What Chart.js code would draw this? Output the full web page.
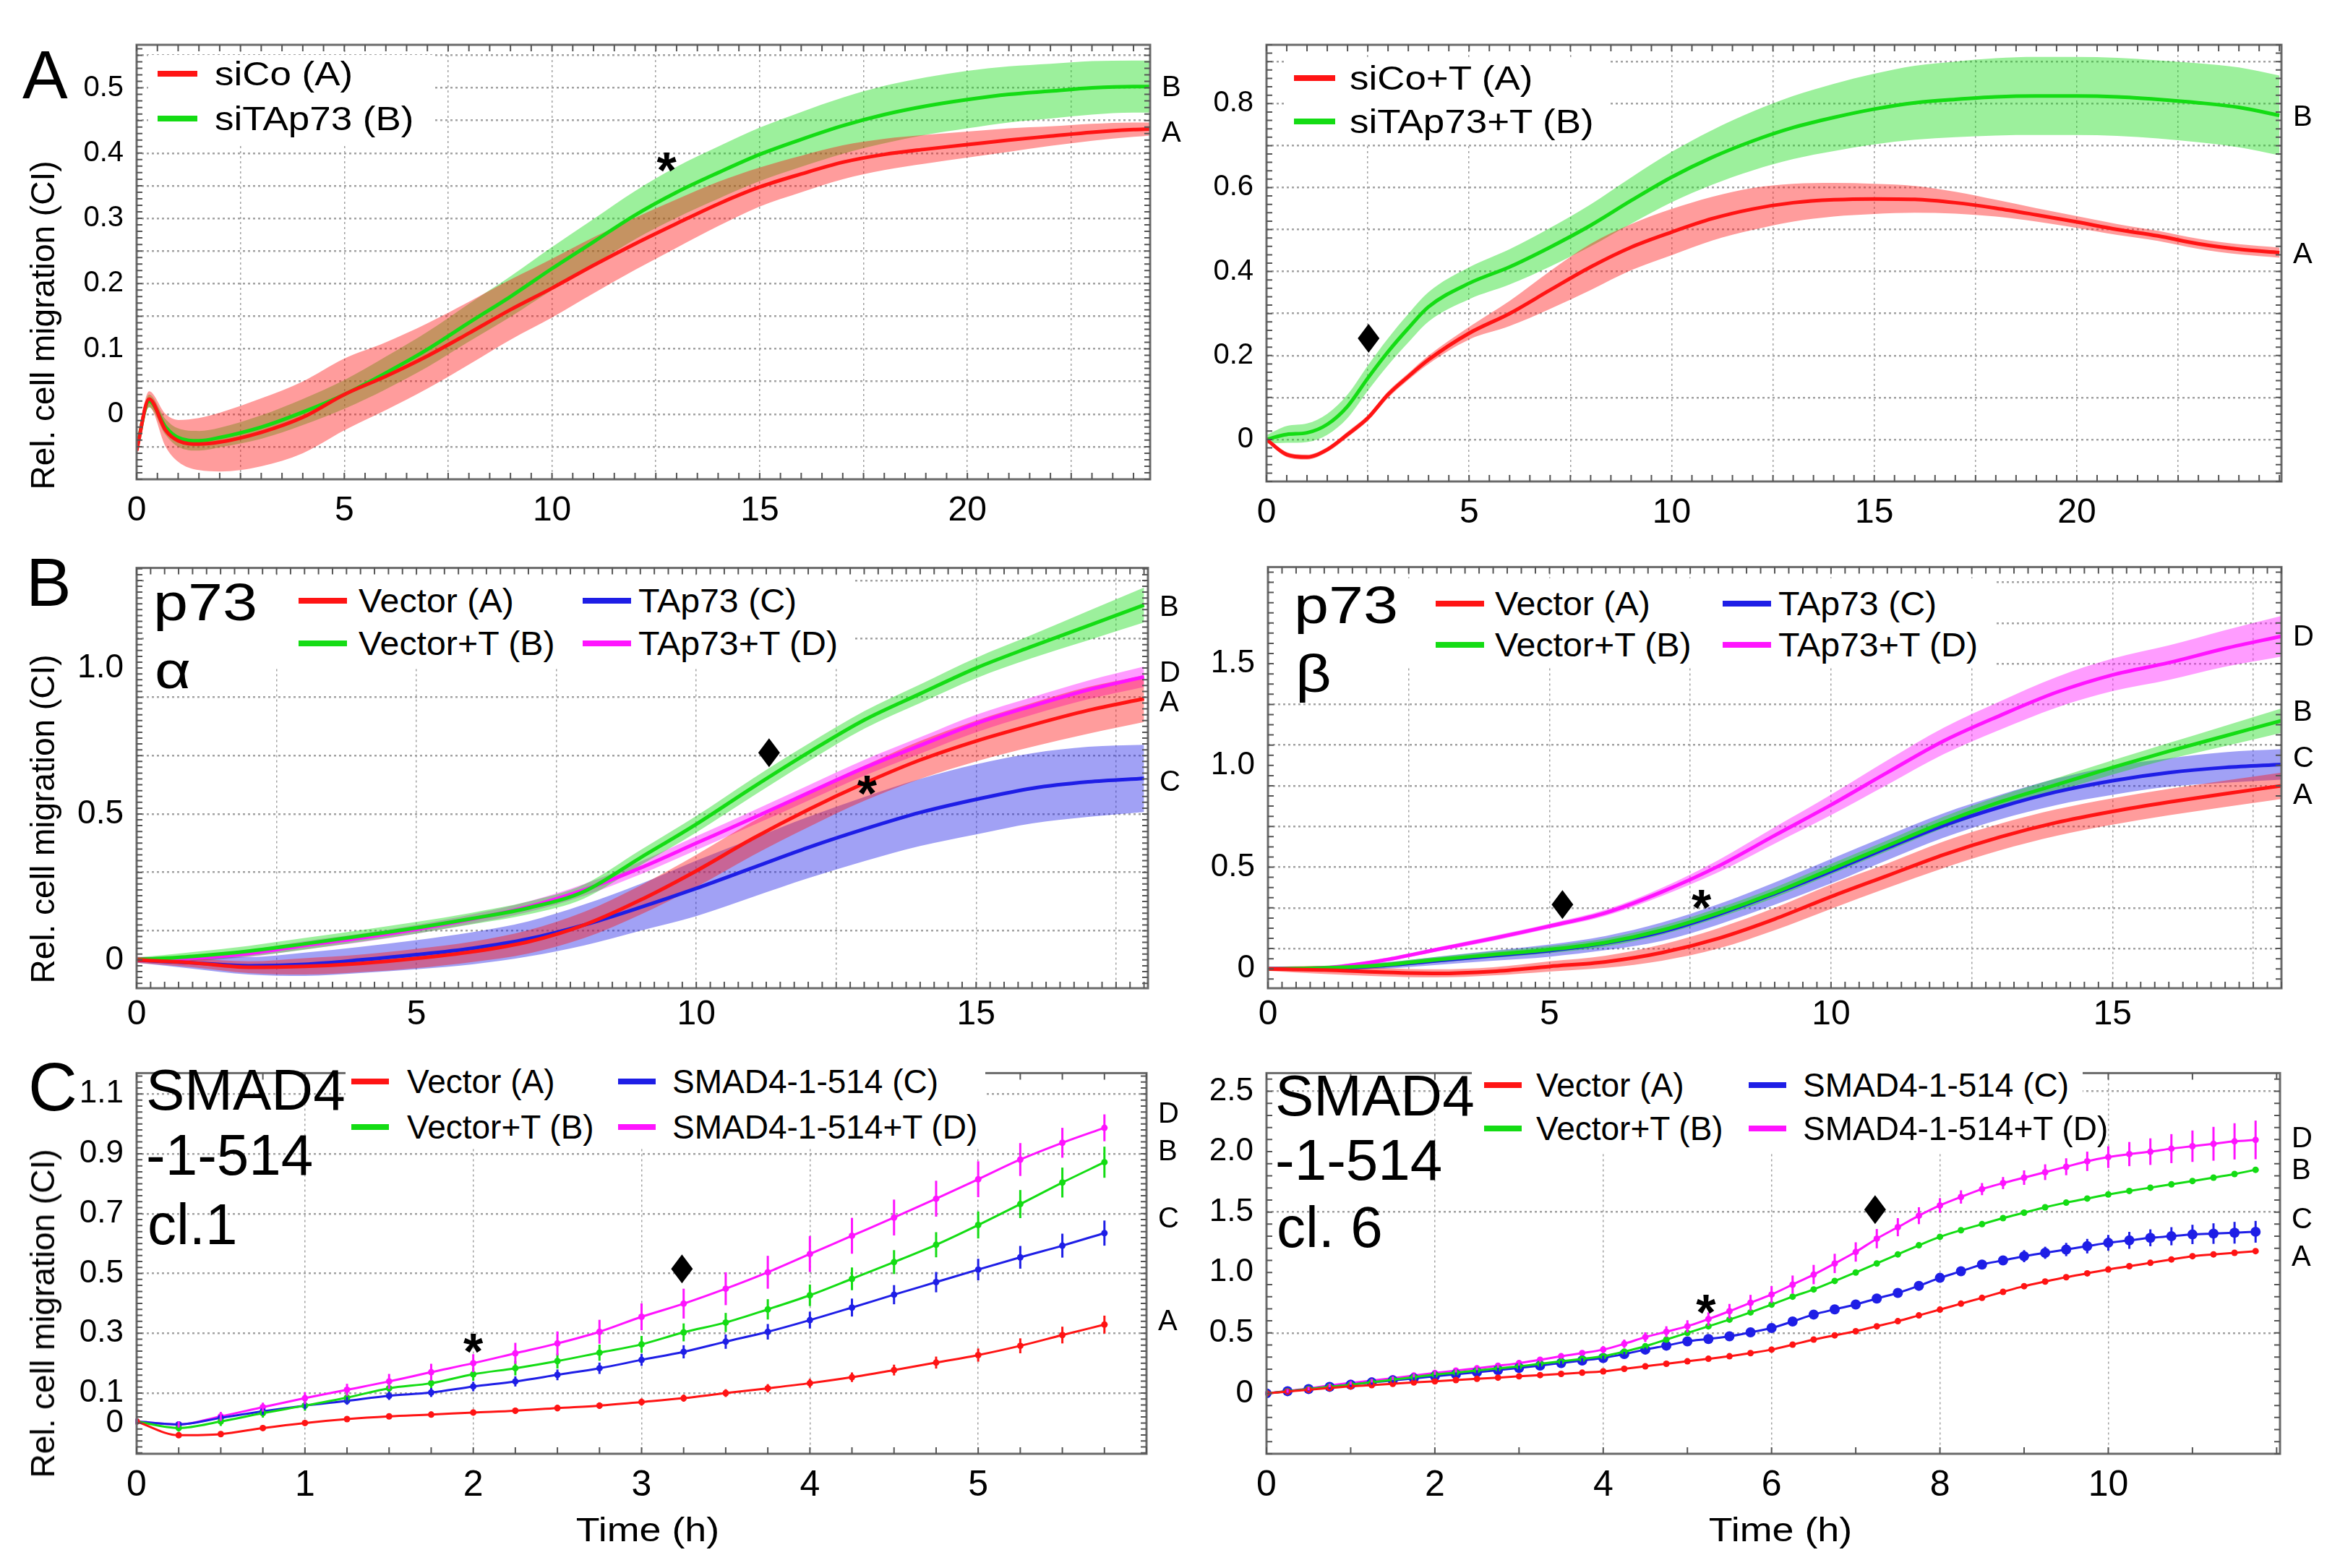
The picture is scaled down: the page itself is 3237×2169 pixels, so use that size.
<!DOCTYPE html>
<html>
<head>
<meta charset="utf-8">
<title>Rel. cell migration</title>
<script src="https://cdn.jsdelivr.net/npm/chart.js@4.4.1/dist/chart.umd.min.js"></script>
<style>
  html, body { margin: 0; padding: 0; background: #fff; }
  body { position: relative; width: 3237px; height: 2169px; overflow: hidden; font-family: 'Liberation Sans', Arial, sans-serif; }
  canvas { position: absolute; }
  .t { position: absolute; white-space: pre; line-height: 1; color: #000; }
  .box { position: absolute; background: #fff; }
  .sw { position: absolute; }
</style>
</head>
<body>
<canvas id="aLeft"></canvas>
<canvas id="aRight"></canvas>
<canvas id="bLeft"></canvas>
<canvas id="bRight"></canvas>
<canvas id="cLeft"></canvas>
<canvas id="cRight"></canvas>
<script>
const FONT = "'Liberation Sans', Arial, sans-serif";
const RED = '#ff1414', GREEN = '#14dc14', BLUE = '#1e1ee6', MAGENTA = '#ff14ff';

/* ---------- A left: siCo vs siTAp73 ---------- */
const aLeftTime = [0, 0.3, 0.7, 1, 1.5, 2, 3, 4, 5, 6, 7, 8, 9, 10, 11, 12, 13, 14, 15, 16, 17, 18, 19, 20, 21, 22, 23, 24, 24.4];
const aLeftSiCo = [-0.056, 0.023, -0.025, -0.041, -0.046, -0.043, -0.028, -0.005, 0.03, 0.058, 0.089, 0.124, 0.16, 0.193, 0.228, 0.261, 0.292, 0.322, 0.348, 0.368, 0.386, 0.398, 0.406, 0.413, 0.42, 0.426, 0.432, 0.436, 0.437];
const aLeftSiCoErr = [0.01, 0.012, 0.025, 0.032, 0.04, 0.045, 0.052, 0.055, 0.055, 0.052, 0.05, 0.048, 0.046, 0.045, 0.043, 0.04, 0.037, 0.034, 0.03, 0.028, 0.026, 0.024, 0.022, 0.02, 0.018, 0.015, 0.013, 0.011, 0.01];
const aLeftSiTAp73 = [-0.053, 0.02, -0.02, -0.036, -0.041, -0.036, -0.02, 0.003, 0.03, 0.063, 0.099, 0.14, 0.18, 0.223, 0.264, 0.305, 0.34, 0.37, 0.398, 0.421, 0.442, 0.459, 0.472, 0.482, 0.49, 0.495, 0.5, 0.502, 0.502];
const aLeftSiTAp73Err = [0.005, 0.01, 0.012, 0.014, 0.015, 0.015, 0.018, 0.02, 0.022, 0.025, 0.027, 0.029, 0.031, 0.033, 0.035, 0.037, 0.039, 0.04, 0.041, 0.042, 0.043, 0.044, 0.044, 0.044, 0.043, 0.042, 0.041, 0.04, 0.04];
const aLeftXTicks = [0, 5, 10, 15, 20];
const aLeftXLabels = ['0', '5', '10', '15', '20'];
const aLeftXGrid = [2.5, 5, 7.5, 10, 12.5, 15, 17.5, 20, 22.5];
const aLeftYTicks = [0, 0.1, 0.2, 0.3, 0.4, 0.5];
const aLeftYLabels = ['0', '0.1', '0.2', '0.3', '0.4', '0.5'];
const aLeftYGrid = [-0.05, 0, 0.05, 0.1, 0.15, 0.2, 0.25, 0.3, 0.35, 0.4, 0.45, 0.5, 0.55];

/* ---------- A right: siCo+T vs siTAp73+T ---------- */
const aRightTime = [0, 0.5, 1, 1.5, 2, 2.5, 3, 3.5, 4, 5, 6, 7, 8, 9, 10, 11, 12, 13, 14, 15, 16, 17, 18, 19, 20, 21, 22, 23, 24, 25];
const aRightSiCoT = [0, -0.036, -0.042, -0.024, 0.012, 0.051, 0.107, 0.15, 0.19, 0.253, 0.3, 0.356, 0.411, 0.458, 0.494, 0.526, 0.549, 0.564, 0.571, 0.573, 0.572, 0.564, 0.551, 0.535, 0.518, 0.5, 0.485, 0.466, 0.453, 0.445];
const aRightSiCoTErr = [0.005, 0.006, 0.006, 0.006, 0.007, 0.007, 0.008, 0.008, 0.01, 0.015, 0.03, 0.045, 0.055, 0.055, 0.055, 0.052, 0.05, 0.045, 0.04, 0.036, 0.032, 0.026, 0.02, 0.016, 0.014, 0.013, 0.012, 0.012, 0.012, 0.012];
const aRightSiTAp73T = [0, 0.012, 0.016, 0.036, 0.079, 0.146, 0.209, 0.265, 0.316, 0.372, 0.411, 0.458, 0.51, 0.569, 0.625, 0.672, 0.711, 0.743, 0.767, 0.787, 0.802, 0.81, 0.816, 0.818, 0.818, 0.816, 0.81, 0.802, 0.791, 0.772];
const aRightSiTAp73TErr = [0.01, 0.02, 0.022, 0.025, 0.028, 0.03, 0.032, 0.034, 0.035, 0.038, 0.042, 0.046, 0.05, 0.055, 0.06, 0.065, 0.07, 0.075, 0.08, 0.084, 0.088, 0.09, 0.092, 0.093, 0.093, 0.093, 0.093, 0.094, 0.095, 0.095];
const aRightXTicks = [0, 5, 10, 15, 20];
const aRightXLabels = ['0', '5', '10', '15', '20'];
const aRightXGrid = [2.5, 5, 7.5, 10, 12.5, 15, 17.5, 20, 22.5];
const aRightYTicks = [0, 0.2, 0.4, 0.6, 0.8];
const aRightYLabels = ['0', '0.2', '0.4', '0.6', '0.8'];
const aRightYGrid = [0, 0.1, 0.2, 0.3, 0.4, 0.5, 0.6, 0.7, 0.8, 0.9];

/* ---------- B left: p73 alpha ---------- */
const bLeftTime = [0, 1, 2, 3, 4, 5, 6, 7, 8, 9, 10, 11, 12, 13, 14, 15, 16, 17, 18];
const bLeftVector = [0, -0.01, -0.025, -0.022, -0.012, 0.005, 0.028, 0.062, 0.12, 0.205, 0.305, 0.415, 0.515, 0.605, 0.685, 0.75, 0.805, 0.855, 0.895];
const bLeftVectorErr = [0.01, 0.015, 0.02, 0.028, 0.03, 0.033, 0.035, 0.04, 0.045, 0.05, 0.055, 0.058, 0.06, 0.06, 0.065, 0.07, 0.075, 0.08, 0.08];
const bLeftVectorT = [0, 0.012, 0.03, 0.055, 0.082, 0.11, 0.142, 0.178, 0.235, 0.35, 0.465, 0.59, 0.71, 0.822, 0.912, 1.0, 1.074, 1.145, 1.216];
const bLeftVectorTErr = [0.008, 0.015, 0.018, 0.02, 0.02, 0.02, 0.02, 0.022, 0.024, 0.026, 0.028, 0.03, 0.03, 0.03, 0.032, 0.035, 0.04, 0.05, 0.06];
const bLeftTAp73 = [0, -0.01, -0.02, -0.015, 0, 0.018, 0.04, 0.072, 0.12, 0.18, 0.245, 0.315, 0.385, 0.448, 0.505, 0.55, 0.588, 0.61, 0.622];
const bLeftTAp73Err = [0.01, 0.02, 0.03, 0.04, 0.045, 0.05, 0.055, 0.06, 0.07, 0.08, 0.095, 0.1, 0.105, 0.11, 0.115, 0.12, 0.12, 0.12, 0.115];
const bLeftTAp73T = [0, 0.006, 0.022, 0.05, 0.075, 0.105, 0.14, 0.182, 0.24, 0.315, 0.4, 0.485, 0.572, 0.658, 0.735, 0.81, 0.87, 0.925, 0.97];
const bLeftTAp73TErr = [0.008, 0.01, 0.012, 0.014, 0.015, 0.015, 0.016, 0.018, 0.02, 0.022, 0.024, 0.025, 0.026, 0.027, 0.028, 0.03, 0.03, 0.032, 0.035];
const bXTicks = [0, 5, 10, 15];
const bXLabels = ['0', '5', '10', '15'];
const bXGrid = [2.5, 5, 7.5, 10, 12.5, 15, 17.5];
const bLeftYTicks = [0, 0.5, 1.0];
const bLeftYLabels = ['0', '0.5', '1.0'];
const bLeftYGrid = [0.1, 0.3, 0.5, 0.7, 0.9, 1.1, 1.3];

/* ---------- B right: p73 beta ---------- */
const bRightTime = [0, 1, 2, 3, 4, 5, 6, 7, 8, 9, 10, 11, 12, 13, 14, 15, 16, 17, 18];
const bRightVector = [0, -0.005, -0.016, -0.022, -0.012, 0.012, 0.035, 0.08, 0.15, 0.245, 0.355, 0.458, 0.561, 0.648, 0.719, 0.774, 0.82, 0.861, 0.9];
const bRightVectorErr = [0.01, 0.02, 0.02, 0.02, 0.02, 0.025, 0.03, 0.04, 0.05, 0.055, 0.06, 0.06, 0.065, 0.065, 0.065, 0.065, 0.065, 0.065, 0.065];
const bRightVectorT = [0, 0.005, 0.018, 0.045, 0.07, 0.095, 0.13, 0.19, 0.275, 0.375, 0.49, 0.605, 0.72, 0.82, 0.905, 0.99, 1.07, 1.145, 1.22];
const bRightVectorTErr = [0.008, 0.01, 0.012, 0.014, 0.016, 0.018, 0.02, 0.022, 0.024, 0.025, 0.026, 0.027, 0.028, 0.03, 0.032, 0.035, 0.04, 0.05, 0.06];
const bRightTAp73 = [0, 0.002, 0.015, 0.04, 0.065, 0.09, 0.127, 0.183, 0.268, 0.37, 0.48, 0.595, 0.705, 0.795, 0.87, 0.925, 0.965, 0.99, 1.005];
const bRightTAp73Err = [0.01, 0.01, 0.015, 0.02, 0.025, 0.03, 0.035, 0.045, 0.05, 0.055, 0.06, 0.06, 0.06, 0.06, 0.065, 0.07, 0.07, 0.075, 0.075];
const bRightTAp73T = [0, 0.005, 0.04, 0.095, 0.15, 0.21, 0.276, 0.379, 0.505, 0.656, 0.806, 0.965, 1.12, 1.245, 1.359, 1.445, 1.505, 1.575, 1.635];
const bRightTAp73TErr = [0.01, 0.01, 0.01, 0.01, 0.012, 0.012, 0.015, 0.02, 0.03, 0.04, 0.05, 0.06, 0.065, 0.07, 0.075, 0.08, 0.085, 0.09, 0.1];
const bRightYTicks = [0, 0.5, 1.0, 1.5];
const bRightYLabels = ['0', '0.5', '1.0', '1.5'];
const bRightYGrid = [0.1, 0.3, 0.5, 0.7, 0.9, 1.1, 1.3, 1.5, 1.7, 1.9];

/* ---------- C left: SMAD4-1-514 cl.1 ---------- */
const cLeftTime = [0, 0.25, 0.5, 0.75, 1, 1.25, 1.5, 1.75, 2, 2.25, 2.5, 2.75, 3, 3.25, 3.5, 3.75, 4, 4.25, 4.5, 4.75, 5, 5.25, 5.5, 5.75];
const cLeftVector = [0.005, -0.041, -0.037, -0.017, 0, 0.013, 0.022, 0.028, 0.035, 0.041, 0.05, 0.058, 0.07, 0.083, 0.1, 0.116, 0.133, 0.153, 0.177, 0.202, 0.227, 0.258, 0.294, 0.329];
const cLeftVectorErr = [0.008, 0.008, 0.008, 0.008, 0.008, 0.009, 0.009, 0.01, 0.01, 0.01, 0.011, 0.011, 0.012, 0.012, 0.013, 0.014, 0.015, 0.016, 0.018, 0.02, 0.022, 0.025, 0.028, 0.03];
const cLeftVectorT = [0.005, -0.017, 0.005, 0.033, 0.058, 0.085, 0.116, 0.133, 0.163, 0.183, 0.207, 0.235, 0.263, 0.303, 0.336, 0.38, 0.427, 0.482, 0.538, 0.596, 0.662, 0.732, 0.804, 0.872];
const cLeftVectorTErr = [0.01, 0.012, 0.015, 0.015, 0.017, 0.018, 0.02, 0.02, 0.022, 0.024, 0.025, 0.027, 0.028, 0.03, 0.032, 0.034, 0.036, 0.038, 0.04, 0.042, 0.045, 0.047, 0.05, 0.052];
const cLeftSmad = [0.005, -0.005, 0.017, 0.039, 0.058, 0.074, 0.091, 0.102, 0.122, 0.139, 0.161, 0.183, 0.211, 0.238, 0.272, 0.305, 0.344, 0.386, 0.429, 0.471, 0.513, 0.554, 0.593, 0.635];
const cLeftSmadErr = [0.008, 0.01, 0.01, 0.012, 0.012, 0.013, 0.014, 0.015, 0.016, 0.017, 0.018, 0.019, 0.02, 0.022, 0.024, 0.026, 0.028, 0.03, 0.032, 0.034, 0.036, 0.038, 0.04, 0.042];
const cLeftSmadT = [0.005, -0.005, 0.022, 0.053, 0.083, 0.111, 0.139, 0.17, 0.2, 0.233, 0.266, 0.305, 0.355, 0.399, 0.449, 0.504, 0.565, 0.626, 0.687, 0.75, 0.815, 0.881, 0.937, 0.987];
const cLeftSmadTErr = [0.01, 0.01, 0.015, 0.015, 0.02, 0.02, 0.025, 0.028, 0.03, 0.035, 0.04, 0.04, 0.045, 0.05, 0.055, 0.055, 0.06, 0.06, 0.06, 0.06, 0.06, 0.055, 0.05, 0.045];
const cLeftXTicks = [0, 1, 2, 3, 4, 5];
const cLeftXLabels = ['0', '1', '2', '3', '4', '5'];
const cLeftXGrid = [1, 2, 3, 4, 5];
const cLeftYTicks = [0, 0.1, 0.3, 0.5, 0.7, 0.9, 1.1];
const cLeftYLabels = ['0', '0.1', '0.3', '0.5', '0.7', '0.9', '1.1'];
const cLeftYGrid = [0.1, 0.3, 0.5, 0.7, 0.9, 1.1];

/* ---------- C right: SMAD4-1-514 cl. 6 ---------- */
const cRightTime = [0, 0.25, 0.5, 0.75, 1, 1.25, 1.5, 1.75, 2, 2.25, 2.5, 2.75, 3, 3.25, 3.5, 3.75,
  4, 4.25, 4.5, 4.75, 5, 5.25, 5.5, 5.75, 6, 6.25, 6.5, 6.75, 7, 7.25, 7.5, 7.75,
  8, 8.25, 8.5, 8.75, 9, 9.25, 9.5, 9.75, 10, 10.25, 10.5, 10.75, 11, 11.25, 11.5, 11.75];
const cRightVector = [0, 0.015, 0.03, 0.044, 0.058, 0.068, 0.079, 0.09, 0.1, 0.11, 0.12, 0.13, 0.141, 0.151, 0.161, 0.171,
  0.182, 0.203, 0.224, 0.245, 0.265, 0.286, 0.307, 0.333, 0.362, 0.403, 0.445, 0.48, 0.514, 0.555, 0.597, 0.645,
  0.693, 0.742, 0.79, 0.84, 0.887, 0.925, 0.961, 0.993, 1.025, 1.052, 1.08, 1.108, 1.135, 1.15, 1.163, 1.177];
const cRightVectorErr = [0.01, 0.01, 0.01, 0.01, 0.012, 0.012, 0.012, 0.012, 0.012, 0.012, 0.012, 0.012, 0.012, 0.012, 0.012, 0.012,
  0.012, 0.012, 0.012, 0.012, 0.012, 0.012, 0.012, 0.012, 0.015, 0.015, 0.015, 0.015, 0.015, 0.015, 0.015, 0.015,
  0.015, 0.015, 0.015, 0.015, 0.02, 0.02, 0.02, 0.02, 0.02, 0.02, 0.02, 0.02, 0.02, 0.02, 0.02, 0.02];
const cRightVectorT = [0, 0.018, 0.036, 0.055, 0.072, 0.092, 0.113, 0.134, 0.155, 0.172, 0.19, 0.207, 0.224, 0.245, 0.265, 0.285,
  0.307, 0.345, 0.39, 0.445, 0.5, 0.555, 0.61, 0.67, 0.735, 0.8, 0.86, 0.93, 1.0, 1.075, 1.15, 1.225,
  1.295, 1.35, 1.4, 1.45, 1.495, 1.54, 1.578, 1.612, 1.646, 1.675, 1.702, 1.73, 1.757, 1.785, 1.815, 1.85];
const cRightVectorTErr = [0.012, 0.012, 0.012, 0.012, 0.012, 0.012, 0.012, 0.012, 0.012, 0.012, 0.012, 0.012, 0.012, 0.012, 0.012, 0.012,
  0.018, 0.018, 0.018, 0.018, 0.018, 0.018, 0.018, 0.018, 0.018, 0.018, 0.018, 0.018, 0.018, 0.018, 0.018, 0.018,
  0.022, 0.022, 0.022, 0.022, 0.022, 0.022, 0.022, 0.022, 0.022, 0.022, 0.022, 0.022, 0.022, 0.022, 0.022, 0.022];
const cRightSmad = [0, 0.018, 0.036, 0.054, 0.072, 0.09, 0.107, 0.124, 0.141, 0.158, 0.175, 0.192, 0.21, 0.23, 0.251, 0.272,
  0.293, 0.325, 0.362, 0.395, 0.43, 0.45, 0.472, 0.505, 0.541, 0.595, 0.652, 0.695, 0.735, 0.785, 0.831, 0.89,
  0.956, 1.01, 1.066, 1.1, 1.135, 1.163, 1.19, 1.218, 1.246, 1.266, 1.287, 1.3, 1.315, 1.322, 1.329, 1.337];
const cRightSmadErr = [0.018, 0.018, 0.018, 0.018, 0.018, 0.018, 0.018, 0.018, 0.018, 0.018, 0.018, 0.018, 0.018, 0.018, 0.018, 0.018,
  0.018, 0.018, 0.018, 0.018, 0.018, 0.018, 0.018, 0.018, 0.018, 0.018, 0.018, 0.018, 0.03, 0.03, 0.03, 0.03,
  0.03, 0.03, 0.03, 0.03, 0.05, 0.05, 0.055, 0.06, 0.065, 0.07, 0.07, 0.075, 0.08, 0.085, 0.09, 0.09];
const cRightSmadT = [0, 0.02, 0.04, 0.065, 0.086, 0.105, 0.125, 0.147, 0.168, 0.188, 0.207, 0.228, 0.25, 0.278, 0.307, 0.333,
  0.362, 0.41, 0.465, 0.51, 0.555, 0.615, 0.68, 0.75, 0.818, 0.9, 0.983, 1.075, 1.17, 1.28, 1.375, 1.47,
  1.555, 1.625, 1.69, 1.74, 1.785, 1.83, 1.875, 1.92, 1.955, 1.98, 2.0, 2.025, 2.045, 2.065, 2.085, 2.097];
const cRightSmadTErr = [0.015, 0.015, 0.015, 0.015, 0.015, 0.015, 0.015, 0.015, 0.015, 0.015, 0.015, 0.015, 0.02, 0.02, 0.02, 0.02,
  0.03, 0.035, 0.04, 0.045, 0.05, 0.055, 0.06, 0.065, 0.07, 0.075, 0.08, 0.08, 0.08, 0.08, 0.075, 0.07,
  0.06, 0.055, 0.05, 0.05, 0.06, 0.065, 0.07, 0.08, 0.09, 0.1, 0.11, 0.12, 0.13, 0.14, 0.15, 0.16];
const cRightXTicks = [0, 2, 4, 6, 8, 10];
const cRightXLabels = ['0', '2', '4', '6', '8', '10'];
const cRightXGrid = [2, 4, 6, 8, 10];
const cRightYTicks = [0, 0.5, 1.0, 1.5, 2.0, 2.5];
const cRightYLabels = ['0', '0.5', '1.0', '1.5', '2.0', '2.5'];
const cRightYGrid = [0.5, 1.5, 2.5];

/* series: label + colour + values */
const aLeftSeries = [
  { label: 'siCo (A)', color: RED, values: aLeftSiCo, errors: aLeftSiCoErr },
  { label: 'siTAp73 (B)', color: GREEN, values: aLeftSiTAp73, errors: aLeftSiTAp73Err },
];
const aRightSeries = [
  { label: 'siCo+T (A)', color: RED, values: aRightSiCoT, errors: aRightSiCoTErr },
  { label: 'siTAp73+T (B)', color: GREEN, values: aRightSiTAp73T, errors: aRightSiTAp73TErr },
];
const bLeftSeries = [
  { label: 'Vector (A)', color: RED, values: bLeftVector, errors: bLeftVectorErr },
  { label: 'Vector+T (B)', color: GREEN, values: bLeftVectorT, errors: bLeftVectorTErr },
  { label: 'TAp73 (C)', color: BLUE, values: bLeftTAp73, errors: bLeftTAp73Err },
  { label: 'TAp73+T (D)', color: MAGENTA, values: bLeftTAp73T, errors: bLeftTAp73TErr },
];
const bRightSeries = [
  { label: 'Vector (A)', color: RED, values: bRightVector, errors: bRightVectorErr },
  { label: 'Vector+T (B)', color: GREEN, values: bRightVectorT, errors: bRightVectorTErr },
  { label: 'TAp73 (C)', color: BLUE, values: bRightTAp73, errors: bRightTAp73Err },
  { label: 'TAp73+T (D)', color: MAGENTA, values: bRightTAp73T, errors: bRightTAp73TErr },
];
const cLeftSeries = [
  { label: 'Vector (A)', color: RED, values: cLeftVector, errors: cLeftVectorErr },
  { label: 'Vector+T (B)', color: GREEN, values: cLeftVectorT, errors: cLeftVectorTErr },
  { label: 'SMAD4-1-514 (C)', color: BLUE, values: cLeftSmad, errors: cLeftSmadErr },
  { label: 'SMAD4-1-514+T (D)', color: MAGENTA, values: cLeftSmadT, errors: cLeftSmadTErr },
];
const cRightSeries = [
  { label: 'Vector (A)', color: RED, values: cRightVector, errors: cRightVectorErr },
  { label: 'Vector+T (B)', color: GREEN, values: cRightVectorT, errors: cRightVectorTErr },
  { label: 'SMAD4-1-514 (C)', color: BLUE, values: cRightSmad, errors: cRightSmadErr },
  { label: 'SMAD4-1-514+T (D)', color: MAGENTA, values: cRightSmadT, errors: cRightSmadTErr },
];

/* layout of the six panels (page pixels) */
const X_H = 70, Y_W = 100;
const panels = [
  { id: 'aLeft', canvas: [0, 0, 1640, 740], plot: [189, 62, 1591, 663], kind: 'band', lineWidth: 5,
    times: aLeftTime, series: aLeftSeries,
    x: { min: 0, max: 24.4, ticks: aLeftXTicks, labels: aLeftXLabels, grid: aLeftXGrid, minor: 0.5, font: 48, pad: 15 },
    y: { min: -0.1, max: 0.566, ticks: aLeftYTicks, labels: aLeftYLabels, grid: aLeftYGrid, minor: 0.01, font: 40, pad: 18 },
    endLabels: [['B', 0.5], ['A', 0.43]], marks: [['star', 12.76, 0.391]] },
  { id: 'aRight', canvas: [1640, 0, 1597, 740], plot: [1752, 62, 3156, 666], kind: 'band', lineWidth: 5,
    times: aRightTime, series: aRightSeries,
    x: { min: 0, max: 25.05, ticks: aRightXTicks, labels: aRightXLabels, grid: aRightXGrid, minor: 0.5, font: 48, pad: 15 },
    y: { min: -0.1, max: 0.94, ticks: aRightYTicks, labels: aRightYLabels, grid: aRightYGrid, minor: 0.02, font: 40, pad: 18 },
    endLabels: [['B', 0.767], ['A', 0.439]], marks: [['diamond', 2.52, 0.241]] },
  { id: 'bLeft', canvas: [0, 740, 1640, 700], plot: [189, 766, 1588, 1367], kind: 'band', lineWidth: 5,
    times: bLeftTime, series: bLeftSeries,
    x: { min: 0, max: 18.07, ticks: bXTicks, labels: bXLabels, grid: bXGrid, minor: 0.25, font: 48, pad: 8 },
    y: { min: -0.097, max: 1.343, ticks: bLeftYTicks, labels: bLeftYLabels, grid: bLeftYGrid, minor: 0.02, font: 46, pad: 18 },
    endLabels: [['B', 1.205], ['D', 0.98], ['A', 0.88], ['C', 0.607]], marks: [['diamond', 11.3, 0.71], ['star', 13.05, 0.61]] },
  { id: 'bRight', canvas: [1640, 740, 1597, 700], plot: [1754, 766, 3156, 1367], kind: 'band', lineWidth: 5,
    times: bRightTime, series: bRightSeries,
    x: { min: 0, max: 18.0, ticks: bXTicks, labels: bXLabels, grid: bXGrid, minor: 0.25, font: 48, pad: 8 },
    y: { min: -0.095, max: 1.975, ticks: bRightYTicks, labels: bRightYLabels, grid: bRightYGrid, minor: 0.05, font: 44, pad: 18 },
    endLabels: [['D', 1.63], ['B', 1.26], ['C', 1.03], ['A', 0.85]], marks: [['diamond', 5.23, 0.316], ['star', 7.7, 0.355]] },
  { id: 'cLeft', canvas: [0, 1440, 1640, 729], plot: [189, 1462, 1586, 2011], kind: 'points', lineWidth: 3,
    times: cLeftTime, series: cLeftSeries, radius: [4.5, 4.5, 4.5, 4.5],
    x: { min: 0, max: 6.0, ticks: cLeftXTicks, labels: cLeftXLabels, grid: cLeftXGrid, minor: 0.25, font: 50, pad: 14 },
    y: { min: -0.103, max: 1.17, ticks: cLeftYTicks, labels: cLeftYLabels, grid: cLeftYGrid, minor: 0.02, font: 44, pad: 18 },
    endLabels: [['D', 1.03], ['B', 0.904], ['C', 0.68], ['A', 0.338]], marks: [['star', 2.0, 0.277], ['diamond', 3.24, 0.515]] },
  { id: 'cRight', canvas: [1640, 1440, 1597, 729], plot: [1752, 1467, 3154, 2011], kind: 'points', lineWidth: 3,
    times: cRightTime, series: cRightSeries, radius: [4.5, 4.5, 7, 4.5],
    x: { min: 0, max: 12.04, ticks: cRightXTicks, labels: cRightXLabels, grid: cRightXGrid, minor: 1, font: 50, pad: 14 },
    y: { min: -0.5, max: 2.65, ticks: cRightYTicks, labels: cRightYLabels, grid: cRightYGrid, minor: 0.1, font: 44, pad: 18 },
    endLabels: [['D', 2.1], ['B', 1.84], ['C', 1.43], ['A', 1.12]], marks: [['star', 5.22, 0.76], ['diamond', 7.23, 1.52]] },
];

function fade(hex, a) {
  const n = parseInt(hex.slice(1), 16);
  return `rgba(${n >> 16}, ${(n >> 8) & 255}, ${n & 255}, ${a})`;
}
const near = (list, v) => list.some(u => Math.abs(u - v) < 1e-6);

function bandDatasets(times, s, lineWidth) {
  const pts = k => times.map((t, i) => ({ x: t, y: s.values[i] + k * s.errors[i] }));
  return [
    { data: pts(-1), borderWidth: 0, pointRadius: 0, fill: false, order: 2 },
    { data: pts(1), borderWidth: 0, pointRadius: 0, fill: '-1', backgroundColor: fade(s.color, 0.42), order: 2 },
    { data: pts(0), borderColor: s.color, borderWidth: lineWidth, pointRadius: 0, fill: false, order: 1 },
  ];
}

function pointDataset(times, s, lineWidth, radius) {
  return {
    data: times.map((t, i) => ({ x: t, y: s.values[i] })),
    borderColor: s.color, backgroundColor: s.color, borderWidth: lineWidth,
    pointRadius: radius, pointBorderWidth: 0, pointBackgroundColor: s.color,
    errorBars: s.errors, fill: false,
  };
}

function axis(a, isX) {
  const all = [...new Set([...a.ticks, ...a.grid])].sort((m, n) => m - n);
  return {
    type: 'linear', min: a.min, max: a.max,
    afterBuildTicks: s => { s.ticks = all.map(v => ({ value: v })); },
    afterFit: s => { if (isX) s.height = X_H; else s.width = Y_W; },
    ticks: {
      autoSkip: false, maxRotation: 0, padding: a.pad, color: '#000',
      font: { family: FONT, size: a.font },
      callback: v => {
        const i = a.ticks.findIndex(u => Math.abs(u - v) < 1e-6);
        return i < 0 ? '' : a.labels[i];
      },
    },
    grid: {
      drawTicks: false,
      color: c => (c.tick && near(a.grid, c.tick.value)) ? '#a2a2a2' : 'rgba(0,0,0,0)',
      lineWidth: isX ? 1.5 : 2.5,
    },
    border: { display: false, dash: [3, 4] },
  };
}

/* frame, small ticks, error bars, end letters, * and diamond marks */
function makeDecor(p) {
  return {
    id: 'decor',
    afterDatasetsDraw(chart) {
      const { ctx, chartArea: a } = chart;
      const xs = chart.scales.x, ys = chart.scales.y;
      ctx.save();
      ctx.setLineDash([]);
      chart.data.datasets.forEach(ds => {
        if (!ds.errorBars) return;
        ctx.strokeStyle = ds.borderColor;
        ctx.lineWidth = 3;
        ds.data.forEach((pt, i) => {
          const px = xs.getPixelForValue(pt.x);
          ctx.beginPath();
          ctx.moveTo(px, ys.getPixelForValue(pt.y - ds.errorBars[i]));
          ctx.lineTo(px, ys.getPixelForValue(pt.y + ds.errorBars[i]));
          ctx.stroke();
        });
      });
      ctx.strokeStyle = '#6a6a6a';
      ctx.lineWidth = 3;
      ctx.strokeRect(a.left, a.top, a.right - a.left, a.bottom - a.top);
      ctx.strokeStyle = '#555';
      ctx.lineWidth = 2;
      ctx.beginPath();
      for (let k = Math.ceil(p.x.min / p.x.minor); k * p.x.minor <= p.x.max + 1e-9; k++) {
        const px = xs.getPixelForValue(k * p.x.minor);
        ctx.moveTo(px, a.bottom); ctx.lineTo(px, a.bottom - 9);
        ctx.moveTo(px, a.top); ctx.lineTo(px, a.top + 9);
      }
      for (let k = Math.ceil(p.y.min / p.y.minor); k * p.y.minor <= p.y.max + 1e-9; k++) {
        const py = ys.getPixelForValue(k * p.y.minor);
        ctx.moveTo(a.left, py); ctx.lineTo(a.left + 8, py);
        ctx.moveTo(a.right, py); ctx.lineTo(a.right - 8, py);
      }
      ctx.stroke();
      ctx.fillStyle = '#000';
      ctx.font = `40px ${FONT}`;
      ctx.textAlign = 'left';
      ctx.textBaseline = 'middle';
      p.endLabels.forEach(([txt, v]) => ctx.fillText(txt, a.right + 16, ys.getPixelForValue(v)));
      p.marks.forEach(([kind, mx, my]) => {
        const px = xs.getPixelForValue(mx), py = ys.getPixelForValue(my);
        if (kind === 'star') {
          ctx.font = `bold 70px ${FONT}`;
          ctx.textAlign = 'center';
          ctx.textBaseline = 'alphabetic';
          ctx.fillText('*', px, py + 40);
        } else {
          ctx.beginPath();
          ctx.moveTo(px, py - 20); ctx.lineTo(px + 15, py);
          ctx.lineTo(px, py + 20); ctx.lineTo(px - 15, py);
          ctx.closePath();
          ctx.fill();
        }
      });
      ctx.restore();
    },
  };
}

function buildChart(p) {
  const cv = document.getElementById(p.id);
  const [cl, ct, cw, ch] = p.canvas;
  const [pl, pt, pr, pb] = p.plot;
  cv.width = cw; cv.height = ch;
  Object.assign(cv.style, { left: cl + 'px', top: ct + 'px', width: cw + 'px', height: ch + 'px' });
  let datasets = [];
  if (p.kind === 'band') {
    p.series.forEach(s => { datasets = datasets.concat(bandDatasets(p.times, s, p.lineWidth)); });
  } else {
    datasets = p.series.map((s, i) => pointDataset(p.times, s, p.lineWidth, p.radius[i]));
  }
  new Chart(cv, {
    type: 'line',
    data: { datasets },
    options: {
      responsive: false, animation: false, devicePixelRatio: 1, events: [],
      layout: { padding: { left: pl - cl - Y_W, top: pt - ct, right: cl + cw - pr, bottom: ct + ch - pb - X_H } },
      elements: { line: { cubicInterpolationMode: 'monotone' } },
      plugins: { legend: { display: false }, tooltip: { enabled: false } },
      scales: { x: axis(p.x, true), y: axis(p.y, false) },
    },
    plugins: [makeDecor(p)],
  });
}

Chart.defaults.font.family = FONT;
panels.forEach(buildChart);

/* ---------- text around the charts ---------- */
function el(cls, css) {
  const d = document.createElement('div');
  d.className = cls;
  Object.assign(d.style, css);
  document.body.appendChild(d);
  return d;
}
function addText(txt, left, baseline, size, sx) {
  const d = el('t', { left: left + 'px', top: (baseline - 0.8465 * size) + 'px', fontSize: size + 'px' });
  d.textContent = txt;
  if (sx) { d.style.transform = `scaleX(${sx})`; d.style.transformOrigin = 'left top'; }
}
function addCentered(txt, cx, cy, size, sx, rotate) {
  const d = el('t', { left: cx + 'px', top: cy + 'px', fontSize: size + 'px', transformOrigin: 'center center' });
  d.textContent = txt;
  d.style.transform = `translate(-50%, -50%) ${rotate ? 'rotate(-90deg)' : ''} scaleX(${sx || 1})`;
}

const legends = [
  { series: aLeftSeries, box: [205, 76, 395, 122], size: 46, sx: 1.15, sw: 55, items: [[218, 297, 102], [218, 297, 164]] },
  { series: aRightSeries, box: [1778, 80, 450, 120], size: 46, sx: 1.15, sw: 57, items: [[1790, 1867, 108], [1790, 1867, 168]] },
  { series: bLeftSeries, box: [200, 798, 980, 126], size: 46, sx: 1.05, sw: 67,
    items: [[413, 496, 831], [413, 496, 890], [806, 883, 831], [806, 883, 890]] },
  { series: bRightSeries, box: [1762, 800, 1000, 124], size: 46, sx: 1.05, sw: 67,
    items: [[1986, 2068, 835], [1986, 2068, 892], [2383, 2460, 835], [2383, 2460, 892]] },
  { series: cLeftSeries, box: [478, 1466, 885, 122], size: 46, sx: 1, sw: 52,
    items: [[486, 563, 1496], [486, 563, 1559], [855, 930, 1496], [855, 930, 1559]] },
  { series: cRightSeries, box: [2036, 1471, 845, 122], size: 46, sx: 1, sw: 52,
    items: [[2053, 2125, 1501], [2053, 2125, 1561], [2419, 2494, 1501], [2419, 2494, 1561]] },
];
legends.forEach(lg => {
  const [bx, by, bw, bh] = lg.box;
  el('box', { left: bx + 'px', top: by + 'px', width: bw + 'px', height: bh + 'px' });
  lg.items.forEach(([swx, tx, ty], i) => {
    const s = lg.series[i];
    el('sw', { left: swx + 'px', top: (ty - 4) + 'px', width: lg.sw + 'px', height: '8px', background: s.color });
    const d = el('t', { left: tx + 'px', top: ty + 'px', fontSize: lg.size + 'px',
      transform: `translateY(-50%) scaleX(${lg.sx})`, transformOrigin: 'left center' });
    d.textContent = s.label;
  });
});

addText('A', 31, 137, 94);
addText('B', 36, 839, 94);
addText('C', 39, 1537, 94);
addText('p73', 212, 858, 72, 1.2);
addText('α', 214, 952, 72, 1.2);
addText('p73', 1790, 862, 72, 1.2);
addText('β', 1792, 957, 72, 1.2);
addText('SMAD4', 202, 1536, 80);
addText('-1-514', 202, 1626, 80);
addText('cl.1', 204, 1722, 80);
addText('SMAD4', 1764, 1544, 80);
addText('-1-514', 1764, 1633, 80);
addText('cl. 6', 1766, 1726, 80);
addCentered('Rel. cell migration (CI)', 59, 450, 46, 1, true);
addCentered('Rel. cell migration (CI)', 59, 1133, 46, 1, true);
addCentered('Rel. cell migration (CI)', 59, 1817, 46, 1, true);
addCentered('Time (h)', 896, 2116, 46, 1.17);
addCentered('Time (h)', 2463, 2116, 46, 1.17);
</script>
</body>
</html>
